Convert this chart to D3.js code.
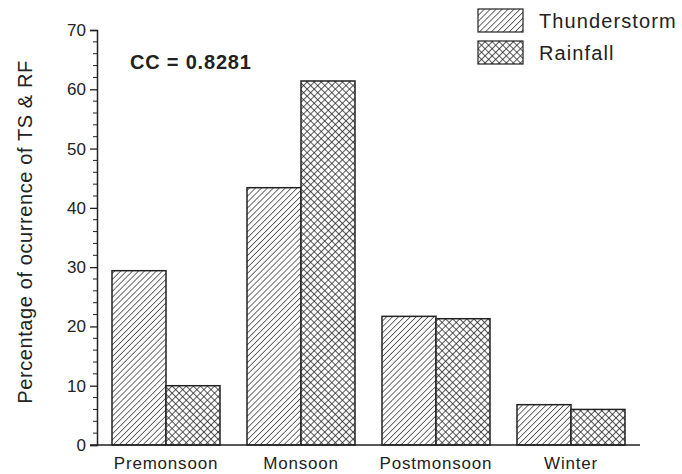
<!DOCTYPE html>
<meta charset="utf-8">
<style>
 body { margin: 0; background: #fff; }
 text { font-family: "Liberation Sans", Arial, sans-serif; fill: #222; }
</style>
<body>
<svg width="682" height="474"></svg>
<script src="https://d3js.org/d3.v7.min.js"></script>
<script>

 var seasons = ["Premonsoon", "Monsoon", "Postmonsoon", "Winter"];
 var thunderstorm = [29.4, 43.4, 21.7, 6.8];
 var rainfall = [10.0, 61.4, 21.3, 6.0];
 var seriesNames = ["Thunderstorm", "Rainfall"];
 var yTicks = [0, 10, 20, 30, 40, 50, 60, 70];

 var svg = d3.select("svg");

 // hatch patterns
 var defs = svg.append("defs");
 var p1 = defs.append("pattern")
     .attr("id", "hatch")
     .attr("patternUnits", "userSpaceOnUse")
     .attr("width", 4.2).attr("height", 4.2)
     .attr("patternTransform", "rotate(45)");
 p1.append("rect").attr("width", 4.2).attr("height", 4.2).attr("fill", "#fff");
 p1.append("line")
     .attr("x1", 0).attr("y1", 0).attr("x2", 0).attr("y2", 4.2)
     .attr("stroke", "#222").attr("stroke-width", 1.3);

 var p2 = defs.append("pattern")
     .attr("id", "cross")
     .attr("patternUnits", "userSpaceOnUse")
     .attr("width", 5).attr("height", 5)
     .attr("patternTransform", "rotate(45)");
 p2.append("rect").attr("width", 5).attr("height", 5).attr("fill", "#fff");
 p2.append("line")
     .attr("x1", 0).attr("y1", 0).attr("x2", 0).attr("y2", 5)
     .attr("stroke", "#222").attr("stroke-width", 1.5);
 p2.append("line")
     .attr("x1", 0).attr("y1", 0).attr("x2", 5).attr("y2", 0)
     .attr("stroke", "#222").attr("stroke-width", 1.5);

 var fills = ["url(#hatch)", "url(#cross)"];

 var x = d3.scaleBand()
     .domain(seasons)
     .range([98.5, 638.5])
     .paddingInner(0.2)
     .paddingOuter(0.1);

 var x1 = d3.scaleBand()
     .domain(seriesNames)
     .range([0, x.bandwidth()]);

 var y = d3.scaleLinear()
     .domain([0, 70])
     .range([445, 30]);

 var data = seasons.map(function(s, i) {
     return { season: s, values: [thunderstorm[i], rainfall[i]] };
 });

 // bars
 var groups = svg.selectAll(".grp")
     .data(data)
     .enter().append("g")
     .attr("class", "grp")
     .attr("transform", function(d) { return "translate(" + x(d.season) + ",0)"; });

 groups.selectAll("rect")
     .data(function(d) { return d.values.map(function(v, j) { return { name: seriesNames[j], v: v, j: j }; }); })
     .enter().append("rect")
     .attr("x", function(d) { return x1(d.name); })
     .attr("y", function(d) { return y(d.v); })
     .attr("width", x1.bandwidth())
     .attr("height", function(d) { return y(0) - y(d.v); })
     .attr("fill", function(d) { return fills[d.j]; })
     .attr("stroke", "#222")
     .attr("stroke-width", 1.5);

 // y axis
 var yAxis = svg.append("g")
     .attr("transform", "translate(97,0)")
     .call(d3.axisLeft(y).tickValues(yTicks).tickSize(7).tickPadding(4));
 yAxis.select(".domain").attr("stroke", "#222").attr("stroke-width", 1.5);
 yAxis.selectAll(".tick line").attr("stroke", "#222").attr("stroke-width", 1.3);
 yAxis.selectAll("text").style("font-size", "17px").attr("fill", "#222");

 // minor ticks every 2
 svg.append("g")
     .selectAll("line")
     .data(d3.range(0, 71, 2).filter(function(v) { return v % 10 !== 0; }))
     .enter().append("line")
     .attr("x1", 93).attr("x2", 98)
     .attr("y1", function(d) { return y(d); })
     .attr("y2", function(d) { return y(d); })
     .attr("stroke", "#222").attr("stroke-width", 1);

 // x axis line
 svg.append("line")
     .attr("x1", 90).attr("x2", 640)
     .attr("y1", y(0)).attr("y2", y(0))
     .attr("stroke", "#222").attr("stroke-width", 1.5);

 svg.append("g").selectAll("text")
     .data(seasons)
     .enter().append("text")
     .attr("x", function(d) { return x(d) + x.bandwidth() / 2; })
     .attr("y", 469)
     .attr("text-anchor", "middle")
     .style("font-size", "17px")
     .style("letter-spacing", "0.8px")
     .text(function(d) { return d; });

 // y title
 svg.append("text")
     .attr("transform", "translate(32,232) rotate(-90)")
     .attr("text-anchor", "middle")
     .style("font-size", "20px")
     .style("letter-spacing", "0.6px")
     .text("Percentage of ocurrence of TS & RF");

 // CC label
 svg.append("text")
     .attr("x", 130).attr("y", 69)
     .style("font-size", "20px")
     .style("font-weight", "bold")
     .style("letter-spacing", "0.8px")
     .text("CC = 0.8281");

 // legend
 var legend = svg.append("g").selectAll("g")
     .data(seriesNames)
     .enter().append("g")
     .attr("transform", function(d, i) { return "translate(478," + (9 + i * 32) + ")"; });

 legend.append("rect")
     .attr("width", 45).attr("height", 23)
     .attr("fill", function(d, i) { return fills[i]; })
     .attr("stroke", "#222").attr("stroke-width", 1.2);

 legend.append("text")
     .attr("x", 61).attr("y", 19)
     .style("font-size", "20px")
     .style("letter-spacing", "1.1px")
     .text(function(d) { return d; });

</script>
</body>
